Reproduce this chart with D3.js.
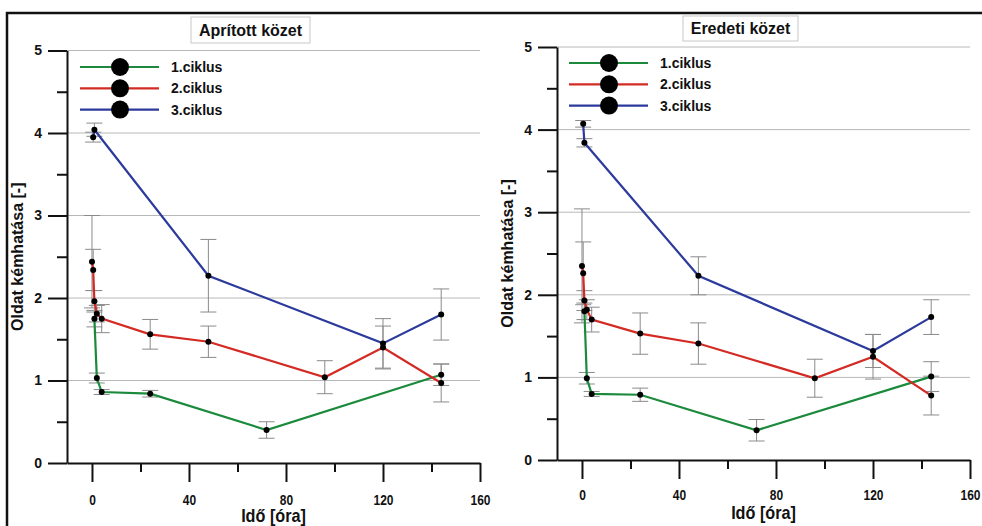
<!DOCTYPE html>
<html>
<head>
<meta charset="utf-8">
<script src="https://cdn.jsdelivr.net/npm/d3@7"></script>
<style>
  body { margin: 0; background: #fff; }
  svg { display: block; font-family: "Liberation Sans", Arial, sans-serif; }
</style>
</head>
<body>
<script>
// pH of leachate over time, crushed vs. original rock, three cycles

const seriesNames = ["1.ciklus", "2.ciklus", "3.ciklus"];
const panelTitles = ["Aprított közet", "Eredeti közet"];
const xMajorTicks = [0, 40, 80, 120, 160];
const xMinorTicks = [20, 60, 100, 140];
const yMajorTicks = [0, 1, 2, 3, 4, 5];
const yMinorTicks = [0.5, 1.5, 2.5, 3.5, 4.5];

// sampling times [h] per cycle
const hours1 = [1, 2, 4, 24, 72, 144];
const hours2 = [0, 0.5, 1, 2, 4, 24, 48, 96, 120, 144];
const hours3 = [0.5, 1, 48, 120, 144];

// Aprított közet
const apr1 = [1.75, 1.03, 0.86, 0.84, 0.40, 1.07];
const apr1Err = [0.10, 0.06, 0.03, 0.04, 0.10, 0.13];
const apr2 = [2.44, 2.34, 1.96, 1.81, 1.75, 1.56, 1.47, 1.04, 1.40, 0.97];
const apr2Err = [0.56, 0.25, 0.13, 0.10, 0.17, 0.18, 0.19, 0.20, 0.26, 0.23];
const apr3 = [3.95, 4.04, 2.27, 1.45, 1.80];
const apr3Err = [0.06, 0.08, 0.44, 0.30, 0.31];

// Eredeti közet
const ere1 = [1.80, 0.99, 0.80, 0.79, 0.36, 1.01];
const ere1Err = [0.10, 0.07, 0.03, 0.08, 0.13, 0.18];
const ere2 = [2.35, 2.26, 1.93, 1.82, 1.70, 1.53, 1.41, 0.99, 1.25, 0.78];
const ere2Err = [0.69, 0.38, 0.12, 0.12, 0.15, 0.25, 0.25, 0.23, 0.27, 0.235];
const ere3 = [4.07, 3.84, 2.23, 1.32, 1.73];
const ere3Err = [0.04, 0.05, 0.23, 0.20, 0.21];

const colors = ["#1b8a3c", "#d42a24", "#2b3a9b"];

function toPoints(hours, vals, errs) {
  return hours.map((h, i) => ({ h, v: vals[i], e: errs[i] }));
}

const panels = [
  {
    title: panelTitles[0],
    series: [toPoints(hours1, apr1, apr1Err), toPoints(hours2, apr2, apr2Err), toPoints(hours3, apr3, apr3Err)],
    x0: 67, x1: 480, yTop: 50.5, yBot: 463,
    titleBox: { x: 191, y: 17, w: 119, h: 26 },
    legend: { x: 80, y: 67 }
  },
  {
    title: panelTitles[1],
    series: [toPoints(hours1, ere1, ere1Err), toPoints(hours2, ere2, ere2Err), toPoints(hours3, ere3, ere3Err)],
    x0: 557, x1: 970, yTop: 47, yBot: 460,
    titleBox: { x: 683, y: 16, w: 115, h: 25 },
    legend: { x: 569, y: 63 }
  }
];

const W = 982, H = 526;
const svg = d3.select("body").append("svg").attr("width", W).attr("height", H);

// outer frame
svg.append("path")
  .attr("d", `M7,${H} V13 H${W}`)
  .attr("fill", "none")
  .attr("stroke", "#111")
  .attr("stroke-width", 2.5);

function drawPanel(p) {
  const g = svg.append("g");
  const x = d3.scaleLinear().domain([-10.3, 160]).range([p.x0, p.x1]);
  const y = d3.scaleLinear().domain([0, 5]).range([p.yBot, p.yTop]);

  // grid
  g.selectAll("line.grid")
    .data(yMajorTicks.slice(1))
    .enter()
    .append("line")
    .attr("class", "grid")
    .attr("x1", x(-10.3))
    .attr("x2", x(160))
    .attr("y1", (d) => y(d))
    .attr("y2", (d) => y(d))
    .attr("stroke", "#b8b8b8")
    .attr("stroke-width", 1);

  // x axis
  const xAxis = g.append("g")
    .attr("transform", `translate(0,${p.yBot})`)
    .call(d3.axisBottom(x).tickValues(xMajorTicks).tickSize(19).tickSizeOuter(0).tickPadding(p.yBot > 461 ? 12 : 10));
  g.append("g")
    .attr("transform", `translate(0,${p.yBot})`)
    .call(d3.axisBottom(x).tickValues(xMinorTicks).tickSize(9).tickFormat(""))
    .select(".domain").remove();
  xAxis.selectAll("text")
    .attr("font-weight", "bold")
    .attr("font-size", 15)
    .attr("fill", "#111")
    .attr("transform", "scale(0.8,1)");

  // y axis
  const yAxis = g.append("g")
    .attr("transform", `translate(${p.x0},0)`)
    .call(d3.axisLeft(y).tickValues(yMajorTicks).tickFormat(d3.format("d")).tickSize(19).tickSizeOuter(0).tickPadding(6));
  g.append("g")
    .attr("transform", `translate(${p.x0},0)`)
    .call(d3.axisLeft(y).tickValues(yMinorTicks).tickSize(10).tickFormat(""))
    .select(".domain").remove();
  yAxis.selectAll("text")
    .attr("font-weight", "bold")
    .attr("font-size", 14)
    .attr("fill", "#111");

  g.selectAll(".domain, .tick line").attr("stroke", "#111").attr("stroke-width", 2);

  // axis titles
  g.append("text")
    .attr("transform", `translate(${(p.x0 + p.x1) / 2},${p.yBot + 59}) scale(0.9,1)`)
    .attr("text-anchor", "middle")
    .attr("font-weight", "bold")
    .attr("font-size", 18)
    .attr("fill", "#111")
    .text("Idő [óra]");

  g.append("text")
    .attr("transform", `translate(${p.x0 - 44},${(p.yTop + p.yBot) / 2}) rotate(-90)`)
    .attr("text-anchor", "middle")
    .attr("font-weight", "bold")
    .attr("font-size", 16)
    .attr("fill", "#111")
    .text("Oldat kémhatása [-]");

  // error bars
  p.series.forEach((pts) => {
    const eb = g.append("g").attr("stroke", "#8a8a8a").attr("stroke-width", 1);
    pts.forEach((d) => {
      const cx = x(d.h);
      eb.append("line").attr("x1", cx).attr("x2", cx).attr("y1", y(d.v + d.e)).attr("y2", y(d.v - d.e));
      eb.append("line").attr("x1", cx - 8).attr("x2", cx + 8).attr("y1", y(d.v + d.e)).attr("y2", y(d.v + d.e));
      eb.append("line").attr("x1", cx - 8).attr("x2", cx + 8).attr("y1", y(d.v - d.e)).attr("y2", y(d.v - d.e));
    });
  });

  // lines
  const line = d3.line().x((d) => x(d.h)).y((d) => y(d.v));
  p.series.forEach((pts, i) => {
    g.append("path")
      .datum(pts)
      .attr("fill", "none")
      .attr("stroke", colors[i])
      .attr("stroke-width", 2.2)
      .attr("d", line);
  });

  // points
  p.series.forEach((pts) => {
    g.selectAll(null)
      .data(pts)
      .enter()
      .append("circle")
      .attr("cx", (d) => x(d.h))
      .attr("cy", (d) => y(d.v))
      .attr("r", 3)
      .attr("fill", "#000");
  });

  // title box
  const tb = p.titleBox;
  g.append("rect")
    .attr("x", tb.x).attr("y", tb.y).attr("width", tb.w).attr("height", tb.h)
    .attr("fill", "#fff").attr("stroke", "#c8c8c8").attr("stroke-width", 1);
  g.append("text")
    .attr("x", tb.x + tb.w / 2)
    .attr("y", tb.y + tb.h / 2 + 5.5)
    .attr("text-anchor", "middle")
    .attr("font-weight", "bold")
    .attr("font-size", 16)
    .attr("fill", "#111")
    .text(p.title);

  // legend
  const lg = g.append("g").attr("transform", `translate(${p.legend.x},${p.legend.y})`);
  seriesNames.forEach((name, i) => {
    const row = lg.append("g").attr("transform", `translate(0,${i * 21.3})`);
    row.append("line").attr("x1", 0).attr("x2", 79).attr("stroke", colors[i]).attr("stroke-width", 2.2);
    row.append("circle").attr("cx", 40).attr("r", 9).attr("fill", "#000");
    row.append("text")
      .attr("x", 91)
      .attr("y", 5)
      .attr("font-weight", "bold")
      .attr("font-size", 14)
      .attr("fill", "#111")
      .text(name);
  });
}

panels.forEach(drawPanel);
</script>
</body>
</html>
